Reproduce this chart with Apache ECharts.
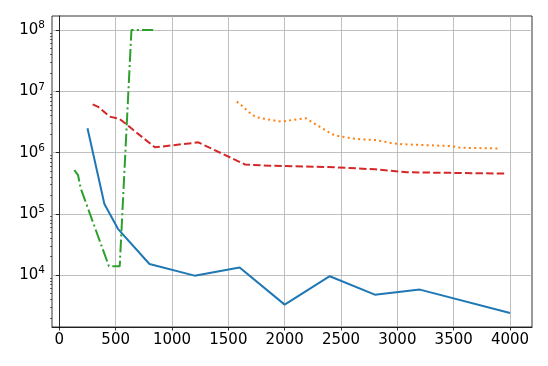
<!DOCTYPE html>
<html lang="en">
<head>
    <meta charset="UTF-8">
    <title>log chart</title>
    <script src="https://cdn.jsdelivr.net/npm/echarts@6/dist/echarts.min.js"></script>
    <style>
        html, body { margin: 0; padding: 0; background: #fff; }
    </style>
</head>
<body>
<div style="width:548px;height:366px" id="myChart"></div>
<script type="text/javascript">
    // data
    var blueX = [250, 400, 520, 800, 1200, 1600, 2000, 2400, 2800, 3200, 4000];
    var blueY = [2.5e6, 1.45e5, 5.7e4, 1.52e4, 9.8e3, 1.33e4, 3.3e3, 9.6e3, 4.8e3, 5.8e3, 2.4e3];

    var orangeX = [1575, 1613, 1678, 1714, 1753, 1842, 1975, 2064, 2191, 2236, 2301, 2420, 2479, 2598, 2687, 2805, 2954, 3043, 3472, 3561, 3888];
    var orangeY = [6.8e6, 6.0e6, 4.66e6, 4.1e6, 3.78e6, 3.5e6, 3.2e6, 3.41e6, 3.63e6, 3.2e6, 2.72e6, 2.0e6, 1.86e6, 1.71e6, 1.64e6, 1.61e6, 1.42e6, 1.37e6, 1.28e6, 1.2e6, 1.17e6];

    var greenX = [133, 166, 190, 440, 536, 640, 833];
    var greenY = [5.2e5, 4.3e5, 2.6e5, 1.4e4, 1.4e4, 1e8, 1e8];

    var redX = [296, 345, 447, 536, 848, 1233, 1649, 1871, 2464, 2805, 3087, 3962];
    var redY = [6.15e6, 5.6e6, 3.87e6, 3.54e6, 1.22e6, 1.47e6, 6.4e5, 6.1e5, 5.75e5, 5.33e5, 4.77e5, 4.55e5];

    var xTicks = [0, 500, 1000, 1500, 2000, 2500, 3000, 3500, 4000];
    var yTicks = [1e4, 1e5, 1e6, 1e7, 1e8];
    var yMinorTicks = [];
    for (var p = 3; p < 9; p++) {
        for (var m = 2; m < 10; m++) yMinorTicks.push(m * Math.pow(10, p));
    }

    function pairs(xs, ys) {
        return xs.map(function (x, i) { return [x, ys[i]]; });
    }

    var font = 'DejaVu Sans';
    var myChart = echarts.init(document.getElementById('myChart'));
    myChart.setOption({
        animation: false,
        grid: {
            left: 52, top: 16, width: 480, height: 311,
            show: true, borderColor: '#000', borderWidth: 0.8
        },
        xAxis: {
            type: 'value',
            min: -65, max: 4195,
            axisLine: { show: true, onZero: false, lineStyle: { color: '#000', width: 0.8 } },
            axisTick: { show: true, length: 3.5, lineStyle: { color: '#000', width: 0.8 }, customValues: xTicks },
            axisLabel: {
                color: '#000', fontFamily: font, fontSize: 15, margin: 6, customValues: xTicks,
                formatter: function (v) { return String(v); }
            },
            splitLine: { show: true, lineStyle: { color: '#b0b0b0', width: 0.8 } }
        },
        yAxis: [{
            type: 'log',
            min: 1422, max: 1.70e8,
            axisLine: { show: true, lineStyle: { color: '#000', width: 0.8 } },
            axisTick: { show: true, length: 3.5, lineStyle: { color: '#000', width: 0.8 }, customValues: yTicks },
            axisLabel: {
                color: '#000', fontFamily: font, margin: 7, customValues: yTicks,
                formatter: function (v) {
                    var e = Math.round(Math.log10(v));
                    return '{b|10}{s|' + e + '}';
                },
                rich: {
                    b: { fontFamily: font, fontSize: 15, color: '#000' },
                    s: { fontFamily: font, fontSize: 10.5, color: '#000', padding: [0, 0, 9, 0] }
                }
            },
            splitLine: { show: true, lineStyle: { color: '#b0b0b0', width: 0.8 } }
        }, {
            type: 'log',
            position: 'left',
            min: 1422, max: 1.70e8,
            axisLine: { show: false },
            axisTick: { show: true, length: 2, lineStyle: { color: '#000', width: 0.6 }, customValues: yMinorTicks },
            axisLabel: { show: false },
            splitLine: { show: false }
        }],
        series: [{
            type: 'line', data: pairs(blueX, blueY), showSymbol: false,
            lineStyle: { color: '#1f77b4', width: 2 }
        }, {
            type: 'line', data: pairs(orangeX, orangeY), showSymbol: false,
            lineStyle: { color: '#ff7f0e', width: 2, type: [2, 3.3], cap: 'butt' }
        }, {
            type: 'line', data: pairs(greenX, greenY), showSymbol: false,
            lineStyle: { color: '#2ca02c', width: 2, type: [12.8, 3.2, 2, 3.2], cap: 'butt' }
        }, {
            type: 'line', data: pairs(redX, redY), showSymbol: false,
            lineStyle: { color: '#d62728', width: 2, type: [7.4, 3.2], cap: 'butt' }
        }]
    });
</script>
</body>
</html>
